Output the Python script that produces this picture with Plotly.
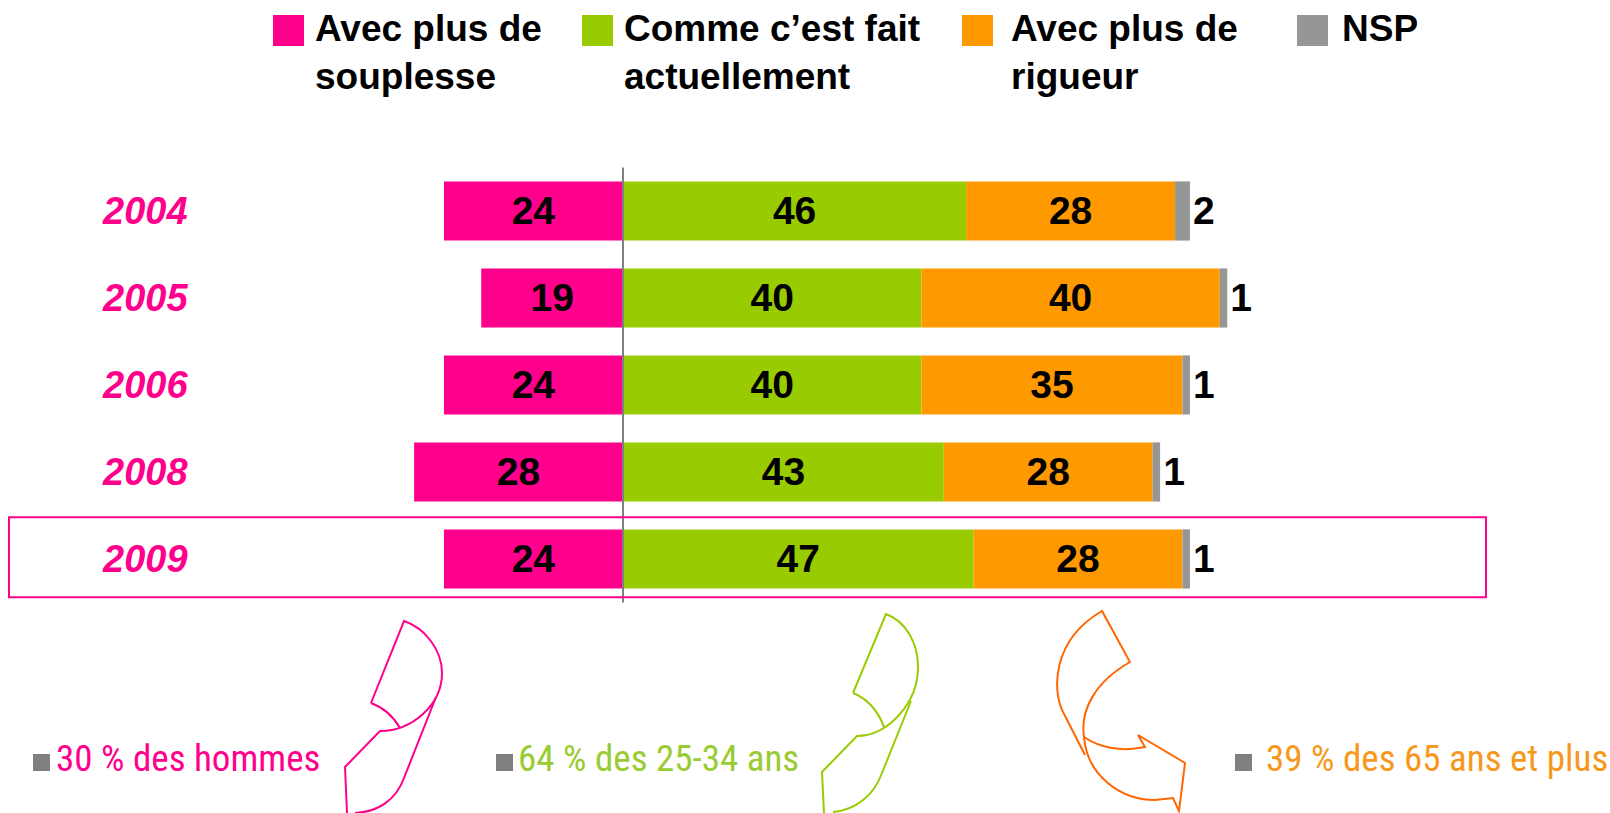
import plotly.graph_objects as go

# ---------------- data ----------------
years = ['2004', '2005', '2006', '2008', '2009']
souplesse = [24, 19, 24, 28, 24]
actuellement = [46, 40, 40, 43, 47]
rigueur = [28, 40, 35, 28, 28]
nsp = [2, 1, 1, 1, 1]

series_names = ['Avec plus de souplesse', 'Comme c’est fait actuellement',
                'Avec plus de rigueur', 'NSP']
legend_labels = ['Avec plus de<br>souplesse', 'Comme c’est fait<br>actuellement',
                 'Avec plus de<br>rigueur', 'NSP']
notes = ['30 % des hommes', '64 % des 25-34 ans', '39 % des 65 ans et plus']

# ---------------- style ----------------
W, H = 1610, 813
PINK = '#FF008C'
GREEN = '#99CC00'
ORANGE = '#FF9900'
GREY = '#969696'
ARROW_ORANGE = '#FF6600'
NOTE_GREEN = '#99CC33'
NOTE_ORANGE = '#F7981D'
FONT = 'Liberation Sans, Arial, sans-serif'
NARROW = 'Liberation Sans Narrow, Arial Narrow, Roboto Condensed, Liberation Sans, sans-serif'
colors = [PINK, GREEN, ORANGE, GREY]

def px(x):
    return x / W

def py(y):
    return 1 - y / H

fig = go.Figure()

lab_font = dict(family=FONT, size=39, color='black', weight='bold')
common = dict(orientation='h', y=years, width=0.68, constraintext='none',
              textangle=0, cliponaxis=False, showlegend=False, hoverinfo='skip')

fig.add_trace(go.Bar(x=[-v for v in souplesse], text=souplesse, name=series_names[0],
                     marker=dict(color=PINK, line=dict(width=0)), textposition='inside',
                     insidetextanchor='middle', textfont=lab_font, **common))
fig.add_trace(go.Bar(x=actuellement, text=actuellement, name=series_names[1],
                     marker=dict(color=GREEN, line=dict(width=0)), textposition='inside',
                     insidetextanchor='middle', textfont=lab_font, **common))
fig.add_trace(go.Bar(x=rigueur, text=rigueur, name=series_names[2],
                     marker=dict(color=ORANGE, line=dict(width=0)), textposition='inside',
                     insidetextanchor='middle', textfont=lab_font, **common))
fig.add_trace(go.Bar(x=nsp, text=nsp, name=series_names[3],
                     marker=dict(color=GREY, line=dict(width=0)), textposition='outside',
                     textfont=lab_font, outsidetextfont=lab_font, **common))

ZERO_PX = 623
SCALE = 7.46
annotations = []
shapes = []

# year labels (category index positions)
for i, yv in enumerate(years):
    annotations.append(dict(x=px(145), xref='paper', y=i, yref='y', text=f'<b><i>{yv}</i></b>',
                            showarrow=False, font=dict(family=FONT, size=38, color=PINK),
                            xanchor='center', yanchor='middle'))

# zero line
shapes.append(dict(type='line', xref='x', yref='y', x0=0, x1=0, y0=-0.5, y1=4.5,
                   line=dict(color='#808080', width=2), layer='above'))
# highlight box 2009
shapes.append(dict(type='rect', xref='paper', yref='y', x0=px(9), x1=px(1486), y0=3.52, y1=4.44,
                   line=dict(color=PINK, width=2), fillcolor='rgba(0,0,0,0)', layer='above'))

# manual legend
sq_left = [273, 582, 962, 1297]
txt_left = [313, 622, 1009, 1340]
for i in range(4):
    shapes.append(dict(type='rect', xref='paper', yref='paper', x0=px(sq_left[i]), x1=px(sq_left[i] + 31),
                       y0=py(15), y1=py(46), fillcolor=colors[i], line=dict(width=0)))
    annotations.append(dict(x=px(txt_left[i]), y=py(6), xref='paper', yref='paper',
                            text=f'<b>{legend_labels[i]}</b>', showarrow=False, align='left',
                            xanchor='left', yanchor='top',
                            font=dict(family=FONT, size=37, color='black')))

# bottom notes
note_sq = [33, 496, 1235]
note_txt = [54, 516, 1264]
note_col = [PINK, NOTE_GREEN, NOTE_ORANGE]
for i in range(3):
    shapes.append(dict(type='rect', xref='paper', yref='paper', x0=px(note_sq[i]), x1=px(note_sq[i] + 17),
                       y0=py(754), y1=py(771), fillcolor='#808080', line=dict(width=0)))
    annotations.append(dict(x=px(note_txt[i]), y=py(758), xref='paper', yref='paper', text=notes[i],
                            showarrow=False, xanchor='left', yanchor='middle',
                            font=dict(family=NARROW, size=37, color=note_col[i])))


# curved arrow outlines (pixel coordinates -> paper)
def P(x, y):
    return f'{px(x):.5f},{py(y):.5f}'

def path(cmds):
    out = []
    for c in cmds:
        if c[0] in ('M', 'L'):
            out.append(f'{c[0]}{P(*c[1])}')
        elif c[0] == 'C':
            out.append('C' + ' '.join(P(*p) for p in c[1:]))
    return ' '.join(out)

pink_paths = [
    [('M', (371, 703)), ('L', (404, 621)),
     ('C', (425, 628), (442, 650), (442, 673)),
     ('C', (442, 705), (412, 731), (380, 731)),
     ('L', (345, 767)), ('L', (347, 813))],
    [('M', (371, 703)), ('C', (382, 707), (393, 716), (400, 728))],
    [('M', (436, 697)), ('L', (404, 778)), ('C', (396, 800), (378, 812), (355, 813))],
]
green_paths = [
    [('M', (853, 693)), ('L', (886, 614)),
     ('C', (905, 621), (918, 642), (918, 667)),
     ('C', (918, 703), (888, 736), (857, 736)),
     ('L', (822, 772)), ('L', (824, 813))],
    [('M', (853, 693)), ('C', (866, 698), (878, 710), (884, 727))],
    [('M', (911, 701)), ('L', (882, 773)), ('C', (874, 795), (856, 810), (833, 812))],
]
orange_paths = [
    [('M', (1063, 712)), ('C', (1052, 690), (1052, 640), (1102, 611)),
     ('L', (1130, 662)),
     ('C', (1095, 682), (1080, 710), (1084, 737)),
     ('C', (1087, 775), (1120, 800), (1155, 800)),
     ('L', (1173, 798)), ('L', (1179, 811)), ('L', (1185, 763)),
     ('L', (1138, 735)), ('L', (1145, 747)),
     ('C', (1122, 752), (1100, 748), (1084, 737))],
    [('M', (1063, 712)), ('L', (1085, 755))],
]
for plist, col in ((pink_paths, PINK), (green_paths, GREEN), (orange_paths, ARROW_ORANGE)):
    for cm in plist:
        shapes.append(dict(type='path', xref='paper', yref='paper', path=path(cm),
                           line=dict(color=col, width=2), fillcolor='rgba(0,0,0,0)'))

fig.update_layout(
    width=W, height=H,
    margin=dict(l=0, r=0, t=0, b=0),
    paper_bgcolor='white', plot_bgcolor='white',
    barmode='relative', bargap=0.32,
    showlegend=False,
    xaxis=dict(range=[-ZERO_PX / SCALE, (W - ZERO_PX) / SCALE], visible=False, domain=[0, 1], fixedrange=True),
    yaxis=dict(type='category', categoryorder='array', categoryarray=years,
               range=[6.92, -2.425], visible=False, domain=[0, 1], fixedrange=True),
    annotations=annotations,
    shapes=shapes,
    font=dict(family=FONT),
)

fig.write_html('out.html', config={'displayModeBar': False},
               post_script="document.body.style.margin='0';document.body.style.overflow='hidden';")
